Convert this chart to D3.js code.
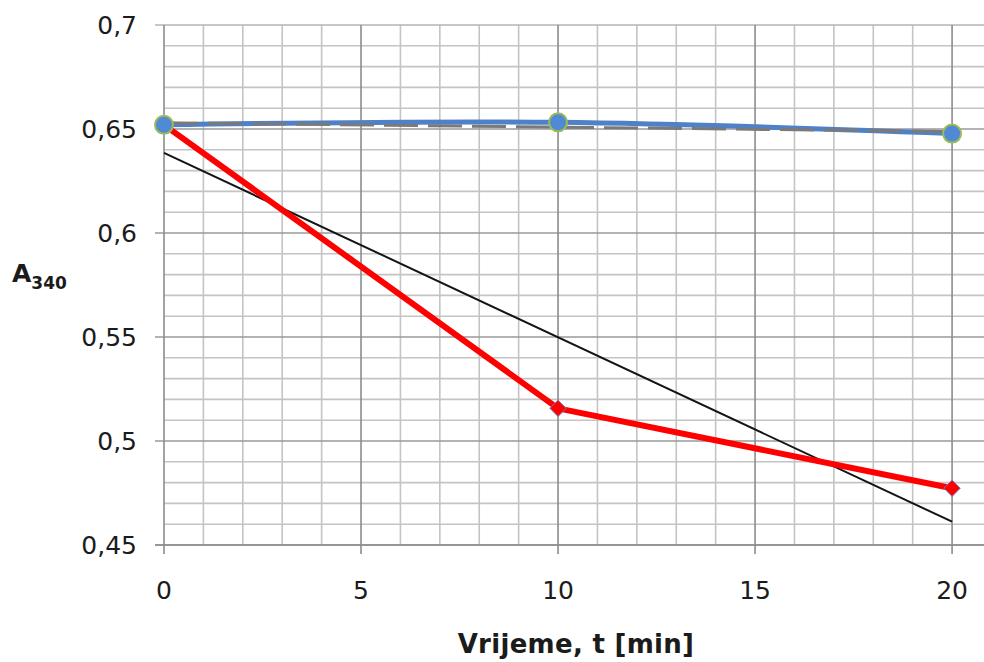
<!DOCTYPE html>
<html>
<head>
<meta charset="utf-8">
<script src="https://cdn.jsdelivr.net/npm/d3@7"></script>
<style>
    body { margin: 0; background: #fff; }
    #chart-area { width: 984px; height: 662px; }
    text { font-family: "DejaVu Sans", Verdana, sans-serif; fill: #1b1b1b; }
</style>
</head>
<body>
<div id="chart-area"></div>
<script>
// time points [min]
let times = [0, 10, 20];
// A340 readings
let blueValues = [0.652, 0.6532, 0.6478];
let redValues = [0.652, 0.5157, 0.4773];
// linear trend endpoints as drawn (t = 0 and t = 20)
let trendTimes = [0, 20];
let blueTrend = [0.653, 0.6488];
let redTrend = [0.6385, 0.4612];
// tick labels
let xTicks = [0, 5, 10, 15, 20];
let yTicks = [0.45, 0.5, 0.55, 0.6, 0.65, 0.7];

class AbsChart {

    constructor(parentElement) {
        this.parentElement = parentElement;
        this.initVis();
    }

    initVis() {
        let vis = this;

        vis.margin = {top: 25, right: 0, bottom: 117, left: 164};
        vis.width = 984 - vis.margin.left - vis.margin.right;
        vis.height = 662 - vis.margin.top - vis.margin.bottom;

        vis.svg = d3.select("#" + vis.parentElement).append("svg")
            .attr("width", 984)
            .attr("height", 662)
            .append("g")
            .attr("transform", "translate(" + vis.margin.left + "," + vis.margin.top + ")");

        // x runs a little past 20 to the right edge
        vis.x = d3.scaleLinear()
            .domain([0, 20.81])
            .range([0, vis.width]);

        vis.y = d3.scaleLinear()
            .domain([0.45, 0.7])
            .range([vis.height, 0]);

        vis.updateVis();
    }

    updateVis() {
        let vis = this;

        // minor grid
        let minorX = d3.range(0, 21, 1).filter(d => d % 5 !== 0);
        let minorY = d3.range(45, 71, 1).map(d => d / 100).filter(d => Math.round(d * 100) % 5 !== 0);

        vis.svg.append("g").selectAll("line")
            .data(minorX)
            .enter().append("line")
            .attr("x1", d => vis.x(d)).attr("x2", d => vis.x(d))
            .attr("y1", 0).attr("y2", vis.height)
            .attr("stroke", "#c4c4c4").attr("stroke-width", 1.6);

        vis.svg.append("g").selectAll("line")
            .data(minorY)
            .enter().append("line")
            .attr("x1", 0).attr("x2", vis.width)
            .attr("y1", d => vis.y(d)).attr("y2", d => vis.y(d))
            .attr("stroke", "#c4c4c4").attr("stroke-width", 1.6);

        // major grid
        vis.svg.append("g").selectAll("line")
            .data(yTicks)
            .enter().append("line")
            .attr("x1", -9).attr("x2", vis.width)
            .attr("y1", d => vis.y(d)).attr("y2", d => vis.y(d))
            .attr("stroke", d => d === 0.7 ? "#b4b4b4" : "#9a9a9a").attr("stroke-width", 1.6);

        vis.svg.append("g").selectAll("line")
            .data(xTicks)
            .enter().append("line")
            .attr("x1", d => vis.x(d)).attr("x2", d => vis.x(d))
            .attr("y1", 0).attr("y2", vis.height + 9)
            .attr("stroke", "#8c8c8c").attr("stroke-width", 1.6);

        // bottom axis line
        vis.svg.append("line")
            .attr("x1", -9).attr("x2", vis.width)
            .attr("y1", vis.height).attr("y2", vis.height)
            .attr("stroke", "#8c8c8c").attr("stroke-width", 1.6);

        // tick labels
        let fmt = d => String(d).replace(".", ",");

        vis.svg.append("g").selectAll("text")
            .data(yTicks)
            .enter().append("text")
            .attr("x", -27)
            .attr("y", d => vis.y(d))
            .attr("dy", "0.36em")
            .attr("text-anchor", "end")
            .attr("font-size", "25px")
            .text(fmt);

        vis.svg.append("g").selectAll("text")
            .data(xTicks)
            .enter().append("text")
            .attr("x", d => vis.x(d))
            .attr("y", vis.height + 54)
            .attr("text-anchor", "middle")
            .attr("font-size", "25px")
            .text(d => d);

        // trend lines
        let trendLine = vals => d3.line()
            .x((d, i) => vis.x(d))
            .y((d, i) => vis.y(vals[i]))(trendTimes);

        vis.svg.append("path")
            .attr("d", trendLine(redTrend))
            .attr("fill", "none")
            .attr("stroke", "#141414")
            .attr("stroke-width", 2);

        // red series
        vis.svg.append("path")
            .attr("d", d3.line().x(d => vis.x(d)).y((d, i) => vis.y(redValues[i]))(times))
            .attr("fill", "none")
            .attr("stroke", "#ff0000")
            .attr("stroke-width", 6)
            .attr("stroke-linejoin", "round");

        vis.svg.append("g").selectAll("path")
            .data(times)
            .enter().append("path")
            .attr("d", d3.symbol().type(d3.symbolDiamond2).size(170))
            .attr("transform", (d, i) => "translate(" + vis.x(d) + "," + vis.y(redValues[i]) + ")")
            .attr("fill", "#ff0000")
            .attr("stroke", "#7080c0")
            .attr("stroke-width", 1);

        // blue series (smoothed)
        vis.svg.append("path")
            .attr("d", d3.line().curve(d3.curveCatmullRom).x(d => vis.x(d)).y((d, i) => vis.y(blueValues[i]))(times))
            .attr("fill", "none")
            .attr("stroke", "#4f81c9")
            .attr("stroke-width", 5);

        vis.svg.append("path")
            .attr("d", trendLine(blueTrend))
            .attr("fill", "none")
            .attr("stroke", "#7a7a7a")
            .attr("stroke-width", 3)
            .attr("stroke-dasharray", "34,10");

        vis.svg.append("g").selectAll("circle")
            .data(times)
            .enter().append("circle")
            .attr("cx", d => vis.x(d))
            .attr("cy", (d, i) => vis.y(blueValues[i]))
            .attr("r", 9)
            .attr("fill", "#5089d4")
            .attr("stroke", "#9bbb59")
            .attr("stroke-width", 2);

        // axis titles
        vis.svg.append("text")
            .attr("x", 576 - vis.margin.left)
            .attr("y", vis.height + 108)
            .attr("text-anchor", "middle")
            .attr("font-size", "26px")
            .attr("font-weight", "bold")
            .attr("letter-spacing", "0.3px")
            .text("Vrijeme, t [min]");

        let yLab = vis.svg.append("text")
            .attr("x", 12 - vis.margin.left)
            .attr("y", 282 - vis.margin.top)
            .attr("font-size", "25px")
            .attr("font-weight", "bold");
        yLab.append("tspan").text("A");
        yLab.append("tspan").attr("font-size", "17px").attr("dy", "0.4em").text("340");
    }
}

let chart = new AbsChart("chart-area");
</script>
</body>
</html>
